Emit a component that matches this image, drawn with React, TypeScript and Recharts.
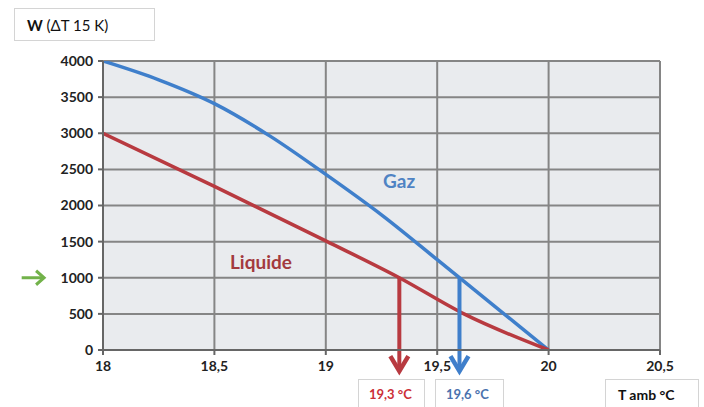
import {
  LineChart,
  Line,
  XAxis,
  YAxis,
  CartesianGrid,
  ReferenceLine,
} from "recharts";

// values
const gazTemp = [18, 18.25, 18.5, 18.75, 19, 19.25, 19.5, 19.75, 20];
const gazPower = [4000, 3740, 3410, 2960, 2430, 1870, 1250, 625, 0];

const liquideTemp = [18, 18.5, 19, 19.33, 19.62, 20];
const liquidePower = [3000, 2265, 1510, 1000, 500, 0];

const xTicks = [18, 18.5, 19, 19.5, 20, 20.5];
const yTicks = [0, 500, 1000, 1500, 2000, 2500, 3000, 3500, 4000];

// target power and the temperatures it gives
const targetPower = 1000;
const liquideAt = 19.33;
const gazAt = 19.6;
const arrowTipPower = -320;

const gazData = gazTemp.map((t, i) => ({ t, w: gazPower[i] }));
const liquideData = liquideTemp.map((t, i) => ({ t, w: liquidePower[i] }));

const BLUE = "#3f7fcb";
const RED = "#b83a40";
const GREEN = "#72b24a";
const FONT = "Lato, 'Open Sans', sans-serif";

// vertical arrow pointing down, drawn from the reference line endpoints
const downArrow = (color: string) => (props: any) => {
  const { x1, y1, x2, y2 } = props;
  const top = Math.min(y1, y2);
  const tip = Math.max(y1, y2);
  const x = x1;
  return (
    <g>
      <line x1={x} y1={top} x2={x2} y2={tip - 3} stroke={color} strokeWidth={4} />
      <polyline
        points={`${x - 9},${tip - 17} ${x},${tip - 2} ${x + 9},${tip - 17}`}
        fill="none"
        stroke={color}
        strokeWidth={4.5}
        strokeLinejoin="miter"
      />
    </g>
  );
};

const rightArrow = (props: any) => {
  const { x1, y1, x2 } = props;
  const left = Math.min(x1, x2);
  const tip = Math.max(x1, x2);
  const y = y1;
  return (
    <g>
      <line x1={left} y1={y} x2={tip - 2} y2={y} stroke={GREEN} strokeWidth={3} />
      <polyline
        points={`${tip - 9},${y - 7} ${tip - 1},${y} ${tip - 9},${y + 7}`}
        fill="none"
        stroke={GREEN}
        strokeWidth={3}
      />
    </g>
  );
};

const fmt = (v: number) => String(v).replace(".", ",");

function App() {
  return (
    <div style={styles.page}>
      <LineChart
        width={704}
        height={407}
        margin={{ top: 61, right: 44, bottom: 27, left: 0 }}
      >
        <CartesianGrid
          fill="#e9ebee"
          stroke="#858585"
          strokeWidth={2}
          horizontalValues={yTicks}
          verticalValues={xTicks}
        />
        <XAxis
          type="number"
          dataKey="t"
          domain={[18, 20.5]}
          ticks={xTicks}
          tickFormatter={fmt}
          allowDataOverflow
          height={30}
          stroke="#666"
          strokeWidth={2}
          tickSize={5}
          tickMargin={6}
          tick={{ fill: "#222", fontSize: 14, fontWeight: 700, fontFamily: FONT }}
        />
        <YAxis
          type="number"
          domain={[0, 4000]}
          ticks={yTicks}
          width={103}
          allowDataOverflow
          stroke="#666"
          strokeWidth={2}
          tickSize={5}
          tickMargin={5}
          tick={{ fill: "#222", fontSize: 14, fontWeight: 700, fontFamily: FONT }}
        />
        <Line
          data={gazData}
          dataKey="w"
          type="monotone"
          stroke={BLUE}
          strokeWidth={3.5}
          dot={false}
          isAnimationActive={false}
        />
        <Line
          data={liquideData}
          dataKey="w"
          type="monotone"
          stroke={RED}
          strokeWidth={3.5}
          dot={false}
          isAnimationActive={false}
        />
        <ReferenceLine
          segment={[
            { x: liquideAt, y: targetPower },
            { x: liquideAt, y: arrowTipPower },
          ]}
          ifOverflow="visible"
          shape={downArrow(RED)}
        />
        <ReferenceLine
          segment={[
            { x: gazAt, y: targetPower },
            { x: gazAt, y: arrowTipPower },
          ]}
          ifOverflow="visible"
          shape={downArrow(BLUE)}
        />
        <ReferenceLine
          segment={[
            { x: 17.635, y: targetPower },
            { x: 17.74, y: targetPower },
          ]}
          ifOverflow="visible"
          shape={rightArrow}
        />
      </LineChart>

      <div style={{ ...styles.box, left: 14, top: 8, width: 141, height: 33, fontSize: 15 }}>
        <span style={{ fontWeight: 700 }}>W</span>
        <span style={{ fontWeight: 400 }}> (ΔT 15 K)</span>
      </div>
      <div style={{ ...styles.seriesLabel, left: 383, top: 169, color: "#4f83c4" }}>Gaz</div>
      <div style={{ ...styles.seriesLabel, left: 230, top: 250, color: "#a33a3e" }}>Liquide</div>
      <div style={{ ...styles.box, ...styles.small, left: 358, top: 379, width: 67, height: 30, color: "#cc2f38" }}>
        19,3 °C
      </div>
      <div style={{ ...styles.box, ...styles.small, left: 435, top: 379, width: 69, height: 30, color: "#4a72ae" }}>
        19,6 °C
      </div>
      <div style={{ ...styles.box, left: 605, top: 379, width: 94, height: 30, fontWeight: 700 }}>
        T amb °C
      </div>
    </div>
  );
}

const styles: Record<string, React.CSSProperties> = {
  page: {
    position: "absolute",
    left: 0,
    top: 0,
    width: 704,
    height: 407,
    overflow: "hidden",
    background: "#fff",
    fontFamily: FONT,
  },
  box: {
    position: "absolute",
    boxSizing: "border-box",
    border: "1px solid #d4d4d4",
    background: "#fff",
    display: "flex",
    alignItems: "center",
    paddingLeft: 12,
    fontSize: 14,
    color: "#111",
    whiteSpace: "pre",
  },
  small: { fontSize: 13, fontWeight: 700, paddingLeft: 10 },
  seriesLabel: {
    position: "absolute",
    fontSize: 19,
    fontWeight: 700,
    lineHeight: "24px",
  },
};

export default App;
